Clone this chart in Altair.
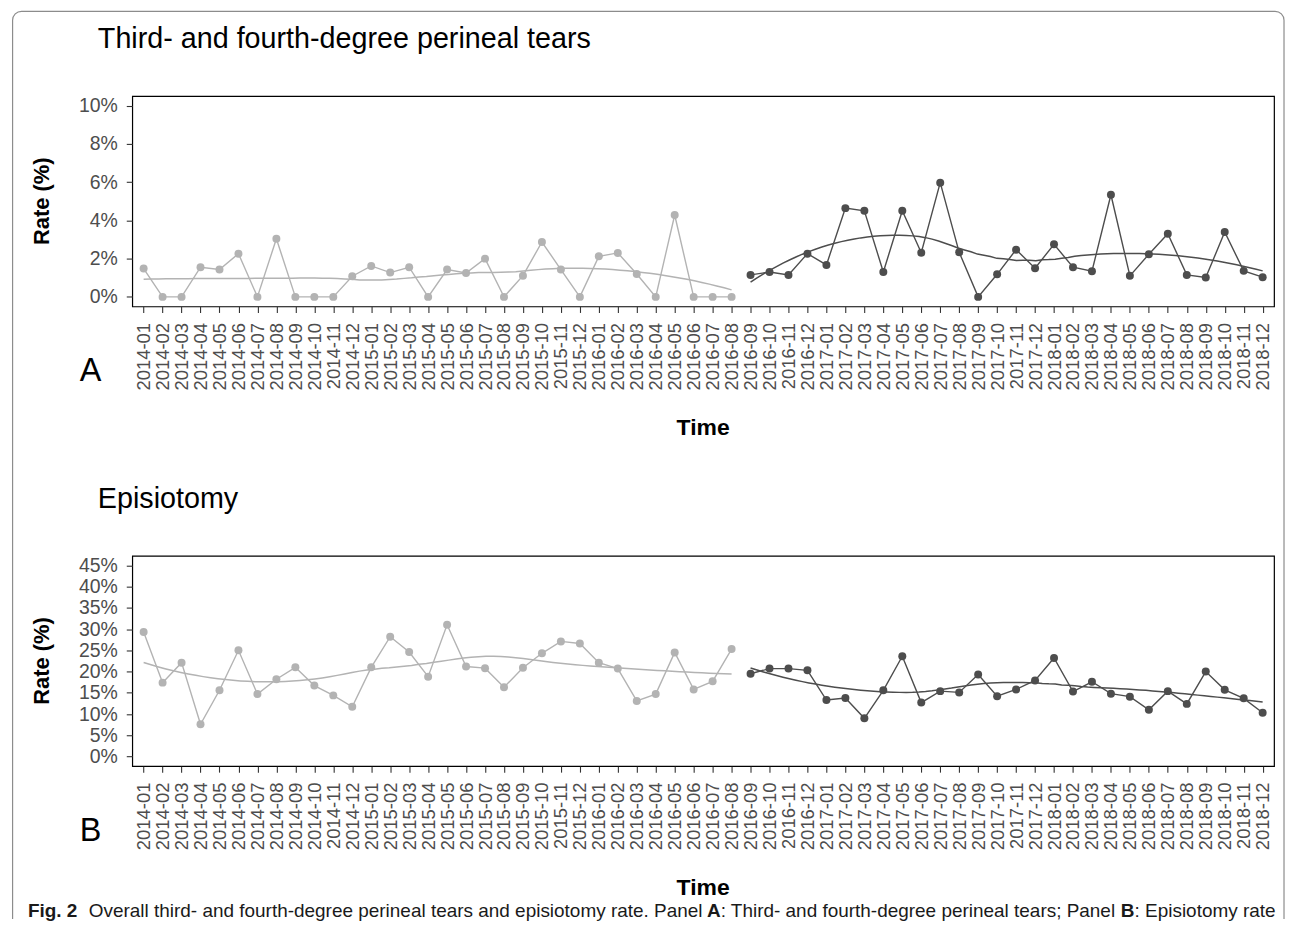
import altair as alt
import numpy as np
import pandas as pd

FONT = "Liberation Sans"

months = [
    "2014-01", "2014-02", "2014-03", "2014-04", "2014-05", "2014-06",
    "2014-07", "2014-08", "2014-09", "2014-10", "2014-11", "2014-12",
    "2015-01", "2015-02", "2015-03", "2015-04", "2015-05", "2015-06",
    "2015-07", "2015-08", "2015-09", "2015-10", "2015-11", "2015-12",
    "2016-01", "2016-02", "2016-03", "2016-04", "2016-05", "2016-06",
    "2016-07", "2016-08", "2016-09", "2016-10", "2016-11", "2016-12",
    "2017-01", "2017-02", "2017-03", "2017-04", "2017-05", "2017-06",
    "2017-07", "2017-08", "2017-09", "2017-10", "2017-11", "2017-12",
    "2018-01", "2018-02", "2018-03", "2018-04", "2018-05", "2018-06",
    "2018-07", "2018-08", "2018-09", "2018-10", "2018-11", "2018-12",
]
n_before = 32  # 2014-01 .. 2016-08 drawn light, 2016-09 .. 2018-12 dark

tears = [
    1.48, 0.0, 0.0, 1.55, 1.43, 2.26, 0.0, 3.04, 0.0, 0.0, 0.0, 1.08,
    1.62, 1.27, 1.55, 0.0, 1.43, 1.25, 2.00, 0.0, 1.11, 2.87, 1.43, 0.0,
    2.12, 2.30, 1.20, 0.0, 4.28, 0.0, 0.0, 0.0,
    1.15, 1.30, 1.15, 2.26, 1.67, 4.64, 4.50, 1.30, 4.50, 2.31, 5.97, 2.33,
    0.0, 1.18, 2.47, 1.50, 2.75, 1.55, 1.34, 5.34, 1.10, 2.23, 3.30, 1.15,
    1.01, 3.39, 1.36, 1.03,
]

episiotomy = [
    29.3, 17.4, 22.1, 7.6, 15.6, 25.0, 14.7, 18.2, 21.0, 16.7, 14.4, 11.7,
    21.0, 28.2, 24.6, 18.8, 31.0, 21.2, 20.8, 16.3, 20.9, 24.3, 27.1, 26.6,
    22.1, 20.7, 13.1, 14.7, 24.5, 15.8, 17.7, 25.3,
    19.5, 20.7, 20.7, 20.3, 13.3, 13.8, 9.0, 15.6, 23.6, 12.7, 15.4, 15.1,
    19.3, 14.2, 15.8, 17.9, 23.2, 15.3, 17.6, 14.8, 14.1, 11.0, 15.4, 12.4,
    20.0, 15.7, 13.7, 10.3,
]

periods = ["Before", "After"]
period_colors = ["#b3b3b3", "#4d4d4d"]

period_col = [periods[0] if i < n_before else periods[1] for i in range(len(months))]
df = pd.DataFrame({
    "idx": list(range(len(months))),
    "month": months,
    "period": period_col,
    "tears": tears,
    "episiotomy": episiotomy,
})


def loess_fit(xs, ys, span=0.75, n_out=80):
    """Local quadratic regression with tricube weights (as ggplot's geom_smooth)."""
    xs = np.asarray(xs, float)
    ys = np.asarray(ys, float)
    n = len(xs)
    q = int(np.floor(n * span))
    grid = np.linspace(xs.min(), xs.max(), n_out)
    out = []
    for x0 in grid:
        d = np.abs(xs - x0)
        h = np.sort(d)[q - 1] * 1.000001
        u = np.clip(d / h, 0, 1)
        w = (1 - u ** 3) ** 3
        X = np.vstack([np.ones(n), xs - x0, (xs - x0) ** 2]).T
        sw = np.sqrt(w)
        beta, *_ = np.linalg.lstsq(X * sw[:, None], ys * sw, rcond=None)
        out.append(beta[0])
    return grid, np.array(out)


def smooth_frame(field):
    rows = []
    for p in periods:
        sub = df[df["period"] == p]
        gx, gy = loess_fit(sub["idx"].values, sub[field].values)
        for a, b in zip(gx, gy):
            rows.append({"idx": float(a), field: float(b), "period": p})
    return pd.DataFrame(rows)


label_expr = "[" + ",".join("'" + m + "'" for m in months) + "][datum.value]"

W = 1145
H = 211
one = alt.Chart(pd.DataFrame({"k": [0]}))


def panel(field, ymax, ystep, title, letter, extra_front=None, extra_back=None):
    x = alt.X(
        "idx:Q",
        scale=alt.Scale(domain=[-0.6, len(months) - 0.4], nice=False, zero=False),
        axis=alt.Axis(values=list(range(len(months))), labelExpr=label_expr, title=None),
    )
    y = alt.Y(
        f"{field}:Q",
        scale=alt.Scale(domain=[-0.05 * ymax, 1.05 * ymax], nice=False, zero=False),
        axis=alt.Axis(values=list(range(0, ymax + 1, ystep)),
                      labelExpr="datum.value + '%'", title=None),
    )
    color = alt.Color("period:N", scale=alt.Scale(domain=periods, range=period_colors), legend=None)
    base = alt.Chart(df)
    line = base.mark_line(strokeWidth=1.4).encode(x=x, y=y, color=color, detail="period:N")
    pts = base.mark_circle(size=64, opacity=1).encode(x=x, y=y, color=color)
    smooth = alt.Chart(smooth_frame(field)).mark_line(strokeWidth=1.5).encode(
        x=x, y=y, color=color, detail="period:N")

    ttl = one.mark_text(align="left", baseline="alphabetic", fontSize=28.8, font=FONT,
                        color="black").encode(x=alt.value(-34.5), y=alt.value(-48.3),
                                              text=alt.value(title))
    let = one.mark_text(align="left", baseline="alphabetic", fontSize=32.5, font=FONT,
                        color="black").encode(x=alt.value(-52.7), y=alt.value(286),
                                              text=alt.value(letter))
    ytitle = one.mark_text(align="center", baseline="alphabetic", angle=270, fontSize=22,
                           fontWeight="bold", font=FONT, color="black").encode(
        x=alt.value(-83.5), y=alt.value(H / 2), text=alt.value("Rate (%)"))
    xtitle = one.mark_text(align="center", baseline="alphabetic", fontSize=23,
                           fontWeight="bold", font=FONT, color="black").encode(
        x=alt.value(W / 2), y=alt.value(340.4), text=alt.value("Time"))

    layers = []
    if extra_back:
        layers += extra_back
    layers += [line, pts, smooth, ttl, let, ytitle, xtitle]
    if extra_front:
        layers += extra_front
    return alt.layer(*layers).properties(width=W, height=H)


# decorative frame around the figure (top corners rounded, open at bottom)
frame = one.mark_rect(fill="white", fillOpacity=0, stroke="#8c8c8c", strokeWidth=1.2,
                      cornerRadiusTopLeft=9, cornerRadiusTopRight=9).encode(
    x=alt.value(-120), x2=alt.value(1155), y=alt.value(-85), y2=alt.value(826.5))
frame_cut = one.mark_rule(color="white", strokeWidth=2.5).encode(
    x=alt.value(-121), x2=alt.value(1156), y=alt.value(826.5))

# caption segments (x relative to the plot's left edge)
cap_y = 362.4
cap_size = 19
caption_parts = [
    ("Fig. 2", "bold", -104.6),
    ("Overall third- and fourth-degree perineal tears and episiotomy rate. Panel", "normal", -43.6),
    ("A", "bold", 576.4),
    (": Third- and fourth-degree perineal tears; Panel", "normal", 590.1),
    ("B", "bold", 991.4),
    (": Episiotomy rate", "normal", 1005.1),
]
caps = [
    one.mark_text(align="left", baseline="alphabetic", fontSize=cap_size, font=FONT,
                  fontWeight=wt, color="#1a1a1a").encode(
        x=alt.value(px), y=alt.value(cap_y), text=alt.value(txt))
    for txt, wt, px in caption_parts
]

pA = panel("tears", 10, 2, "Third- and fourth-degree perineal tears", "A",
           extra_back=[frame, frame_cut])
pB = panel("episiotomy", 45, 5, "Episiotomy", "B", extra_front=caps)

chart = alt.vconcat(pA, pB, spacing=250, bounds="flush").properties(
    padding={"left": 1.6, "top": 0, "right": 0, "bottom": 0}
).configure_view(
    stroke="black", strokeWidth=1.2
).configure_axis(
    domain=False, grid=False, tickColor="#333333", tickSize=6, tickWidth=1.1,
    labelFont=FONT, labelFontSize=18.5, labelColor="#4d4d4d",
).configure_axisX(
    labelAngle=270, labelAlign="right", labelBaseline="middle", labelPadding=10,
    labelOverlap=False, labelFlush=False,
).configure_axisY(
    labelFontSize=19.5, labelPadding=9,
)

chart.save("out.html", embed_options={"renderer": "svg", "actions": False})
